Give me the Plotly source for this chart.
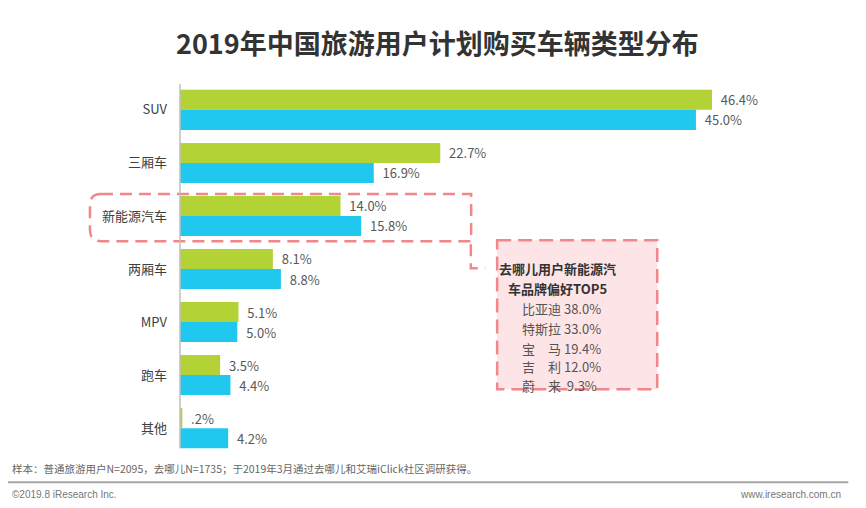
import plotly.graph_objects as go

# ---- data ----
categories = ["SUV", "三厢车", "新能源汽车", "两厢车", "MPV", "跑车", "其他"]
general_users = [46.4, 22.7, 14.0, 8.1, 5.1, 3.5, 0.2]      # 普通旅游用户 (green)
qunar_users = [45.0, 16.9, 15.8, 8.8, 5.0, 4.4, 4.2]        # 去哪儿用户 (blue)
general_labels = ["46.4%", "22.7%", "14.0%", "8.1%", "5.1%", "3.5%", ".2%"]
qunar_labels = ["45.0%", "16.9%", "15.8%", "8.8%", "5.0%", "4.4%", "4.2%"]
brand_names = ["比亚迪", "特斯拉", "宝　马", "吉　利", "蔚　来"]
brand_shares = ["38.0%", "33.0%", "19.4%", "12.0%", " 9.3%"]

title = "2019年中国旅游用户计划购买车辆类型分布"
box_title_lines = ["去哪儿用户新能源汽", "车品牌偏好TOP5"]
note = "样本：普通旅游用户N=2095，去哪儿N=1735；于2019年3月通过去哪儿和艾瑞iClick社区调研获得。"
copyright_text = "©2019.8 iResearch Inc."
site = "www.iresearch.com.cn"

GREEN = "#B2D235"
BLUE = "#20C8F0"
PINK = "#F2878B"
FONT = "Noto Sans CJK SC"

# ---- layout geometry (pixels, in window coordinates) ----
OFF = 8                 # page body margin
W, H = 866 - OFF, 508 - OFF
L_abs = 180             # plot left edge in window
T_abs = 86              # plot top edge in window
PH = 6.9 * 53
PW = 664.7
L = L_abs - OFF
T = T_abs - OFF
R = W - L - PW
B = H - T - PH
XMAX = PW / 11.46


def px(x):
    return (x - L_abs) / PW


def py(y):
    return 1 - (y - T_abs) / PH


fig = go.Figure()
fig.add_trace(go.Bar(
    y=categories, x=general_users, orientation="h", name="普通旅游用户",
    marker=dict(color=GREEN, line=dict(width=0)),
    text=["  " + s for s in general_labels], textposition="outside",
    textfont=dict(size=13, color="#595959", family=FONT), cliponaxis=False,
))
fig.add_trace(go.Bar(
    y=categories, x=qunar_users, orientation="h", name="去哪儿用户",
    marker=dict(color=BLUE, line=dict(width=0)),
    text=["  " + s for s in qunar_labels], textposition="outside",
    textfont=dict(size=13, color="#595959", family=FONT), cliponaxis=False,
))

shapes = []
# rounded dashed highlight around 新能源汽车
x0, x1, y0, y1, r = 90, 471, 194, 241, 11
path = (f"M {px(x0 + r)},{py(y0)} L {px(x1)},{py(y0)} L {px(x1)},{py(y1)} "
        f"L {px(x0 + r)},{py(y1)} Q {px(x0)},{py(y1)} {px(x0)},{py(y1 - r)} "
        f"L {px(x0)},{py(y0 + r)} Q {px(x0)},{py(y0)} {px(x0 + r)},{py(y0)}")
shapes.append(dict(type="path", xref="paper", yref="paper", path=path,
                   line=dict(color=PINK, width=2.5, dash="12px,7px")))
# connector
shapes.append(dict(type="path", xref="paper", yref="paper",
                   path=f"M {px(470.7)},{py(244)} L {px(470.7)},{py(268)} L {px(485)},{py(268)}",
                   line=dict(color=PINK, width=2.5, dash="12px,7px")))
# brand box
shapes.append(dict(type="rect", xref="paper", yref="paper",
                   x0=px(497), x1=px(657), y0=py(240), y1=py(389),
                   fillcolor="#FDE4E6", line=dict(color=PINK, width=2.5, dash="14px,7px"),
                   layer="below"))
# y axis line
shapes.append(dict(type="line", xref="paper", yref="paper",
                   x0=0, x1=0, y0=py(84), y1=py(448),
                   line=dict(color="#BFBFBF", width=1.5)))
# footer separator
shapes.append(dict(type="line", xref="paper", yref="paper",
                   x0=px(8), x1=px(848), y0=py(482), y1=py(482),
                   line=dict(color="#A6A6A6", width=2)))

annotations = [
    dict(text=f"<b>{title}</b>", x=px(437), y=py(43), xref="paper", yref="paper",
         showarrow=False, xanchor="center", yanchor="middle",
         font=dict(size=27, color="#333333", family=FONT)),
    dict(text=note, x=px(10), y=py(468), xref="paper", yref="paper",
         showarrow=False, xanchor="left", yanchor="middle",
         font=dict(size=10.5, color="#666666", family=FONT)),
    dict(text=copyright_text, x=px(10), y=py(494), xref="paper", yref="paper",
         showarrow=False, xanchor="left", yanchor="middle",
         font=dict(size=10, color="#777777", family="Liberation Sans")),
    dict(text=site, x=px(843), y=py(494), xref="paper", yref="paper",
         showarrow=False, xanchor="right", yanchor="middle",
         font=dict(size=10, color="#777777", family="Liberation Sans")),
]
for line_text, yy in zip(box_title_lines, [268, 288]):
    annotations.append(dict(text=f"<b>{line_text}</b>", x=px(557), y=py(yy),
                            xref="paper", yref="paper", showarrow=False,
                            xanchor="center", yanchor="middle", borderpad=0,
                            font=dict(size=13, color="#333333", family=FONT)))
brand_y = [308, 328, 348, 366, 385]
for name, share, yy in zip(brand_names, brand_shares, brand_y):
    annotations.append(dict(text=f"{name} {share}", x=px(521), y=py(yy),
                            xref="paper", yref="paper", showarrow=False,
                            xanchor="left", yanchor="middle", borderpad=0,
                            font=dict(size=13, color="#555555", family=FONT)))

fig.update_layout(
    width=W, height=H, margin=dict(l=L, r=R, t=T, b=B),
    paper_bgcolor="white", plot_bgcolor="white",
    barmode="group", bargap=13 / 53, bargroupgap=0,
    showlegend=False,
    xaxis=dict(range=[0, XMAX], visible=False, showgrid=False, zeroline=False),
    yaxis=dict(range=[6.45, -0.45], showgrid=False, zeroline=False, showline=False,
               ticks="", ticklabelstandoff=12,
               tickfont=dict(size=13, color="#404040", family=FONT)),
    shapes=shapes, annotations=annotations,
    font=dict(family=FONT),
)

fig.write_html("out.html")
